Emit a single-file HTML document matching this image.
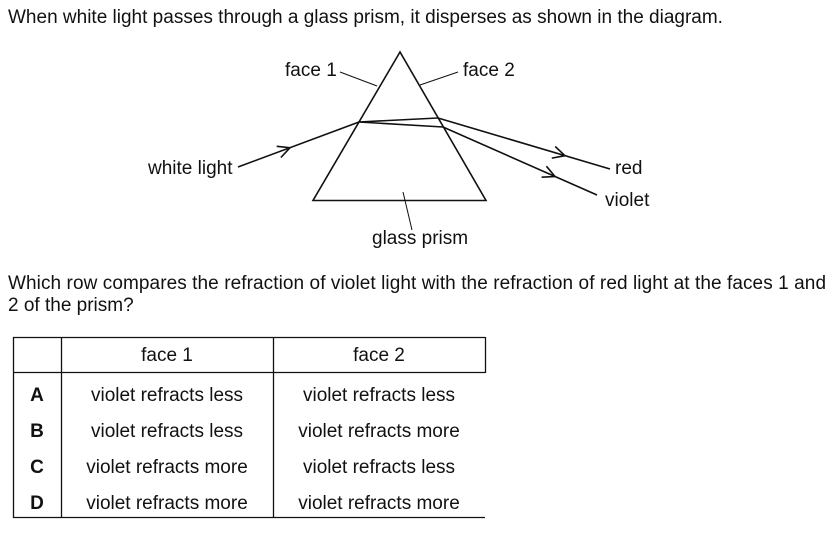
<!DOCTYPE html>
<html><head><style>
body{margin:0;background:#fff;width:836px;height:540px;overflow:hidden;position:relative;font-family:"Liberation Sans",Arial,sans-serif;color:#111}
.t{position:absolute;font-size:19px;white-space:nowrap;line-height:22px}
.c{position:absolute;font-size:19px;text-align:center;line-height:22px;white-space:nowrap}
</style></head><body>
<div class="t" style="left:8px;top:7px">When white light passes through a glass prism, it disperses as shown in the diagram.</div>
<svg width="836" height="540" style="position:absolute;left:0;top:0" fill="none" stroke="#111">
<polygon points="400,52 313,200.5 486,200.5" stroke-width="1.6"/>
<g stroke-width="1.6">
<line x1="238" y1="167" x2="359" y2="122"/>
<line x1="359" y1="122" x2="438" y2="118"/>
<line x1="359" y1="122" x2="443" y2="127"/>
<line x1="438" y1="118" x2="610" y2="169"/>
<line x1="443" y1="127" x2="597" y2="195"/>
<polyline points="276.7,146.3 290,147.7 280.9,157.5"/>
<polyline points="555.2,146.5 565,155.7 551.8,158.1"/>
<polyline points="546.4,166.2 555,176.5 541.6,177.2"/>
</g>
<g stroke-width="1">
<line x1="340" y1="72" x2="377" y2="86"/>
<line x1="458" y1="72" x2="420" y2="85"/>
<line x1="403" y1="192" x2="412" y2="230"/>
</g>
<g stroke-width="1.3">
<line x1="13" y1="337.5" x2="485" y2="337.5"/>
<line x1="13" y1="372.5" x2="485" y2="372.5"/>
<line x1="13" y1="517.5" x2="485" y2="517.5"/>
<line x1="13.5" y1="337" x2="13.5" y2="518"/>
<line x1="61.5" y1="337" x2="61.5" y2="518"/>
<line x1="273.5" y1="337" x2="273.5" y2="518"/>
<line x1="485.5" y1="337" x2="485.5" y2="373"/>
</g>
</svg>
<div class="t" style="left:285px;top:60px">face 1</div>
<div class="t" style="left:463px;top:60px">face 2</div>
<div class="t" style="left:148px;top:158px">white light</div>
<div class="t" style="left:615px;top:158px">red</div>
<div class="t" style="left:605px;top:190px">violet</div>
<div class="t" style="left:372px;top:228px">glass prism</div>
<div class="t" style="left:8px;top:273px;letter-spacing:0.08px">Which row compares the refraction of violet light with the refraction of red light at the faces 1 and</div>
<div class="t" style="left:8px;top:295px">2 of the prism?</div>
<div class="c" style="left:61px;width:212px;top:345px">face 1</div>
<div class="c" style="left:273px;width:212px;top:345px">face 2</div>
<div class="c" style="left:13px;width:48px;top:385px;font-weight:bold">A</div>
<div class="c" style="left:13px;width:48px;top:421px;font-weight:bold">B</div>
<div class="c" style="left:13px;width:48px;top:457px;font-weight:bold">C</div>
<div class="c" style="left:13px;width:48px;top:493px;font-weight:bold">D</div>
<div class="c" style="left:61px;width:212px;top:385px">violet refracts less</div>
<div class="c" style="left:61px;width:212px;top:421px">violet refracts less</div>
<div class="c" style="left:61px;width:212px;top:457px">violet refracts more</div>
<div class="c" style="left:61px;width:212px;top:493px">violet refracts more</div>
<div class="c" style="left:273px;width:212px;top:385px">violet refracts less</div>
<div class="c" style="left:273px;width:212px;top:421px">violet refracts more</div>
<div class="c" style="left:273px;width:212px;top:457px">violet refracts less</div>
<div class="c" style="left:273px;width:212px;top:493px">violet refracts more</div>
</body></html>
